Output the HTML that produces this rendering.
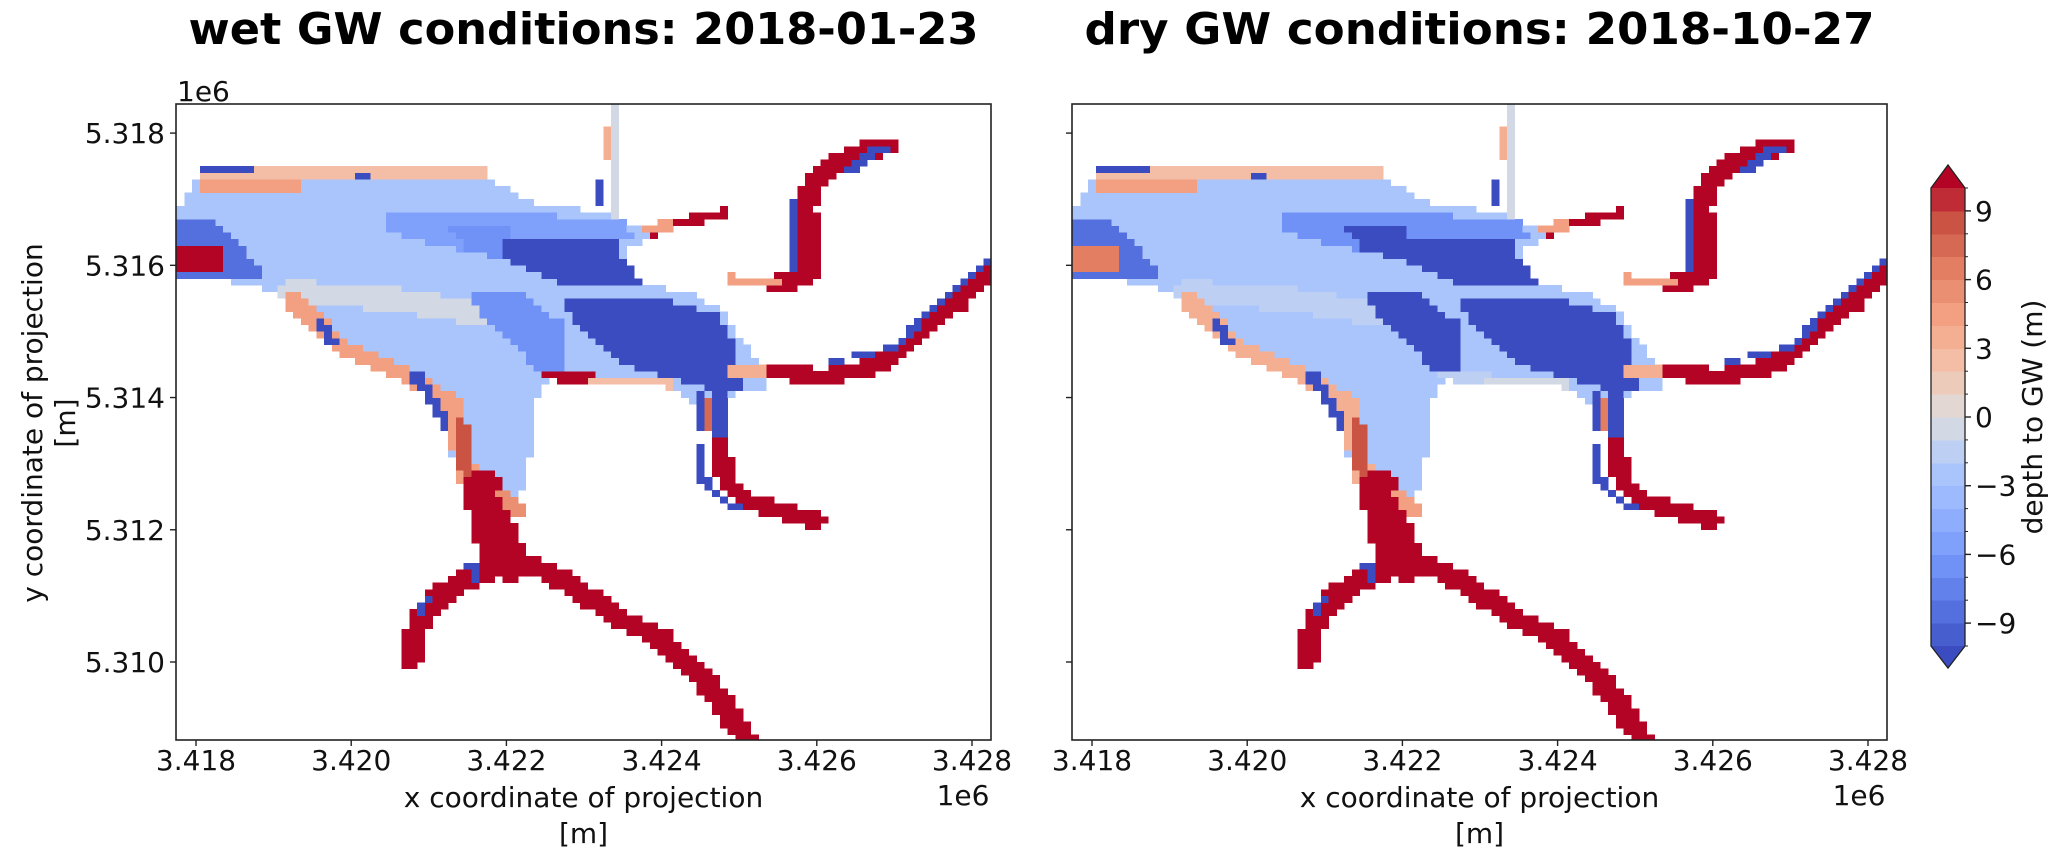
<!DOCTYPE html>
<html><head><meta charset="utf-8">
<style>
html,body{margin:0;padding:0;background:#fff;}
svg{display:block;font-family:"DejaVu Sans","Liberation Sans",sans-serif;}
</style></head>
<body>
<svg id="fig" width="2067" height="854" viewBox="0 0 2067 854" xmlns="http://www.w3.org/2000/svg">
<g id="panels"></g>
<g id="cbar"></g>
</svg>
<script>
// ---- data (km offsets: dx = x_km - 3418, dy = y_km - 5310) ----
const panelTitles = ["wet GW conditions: 2018-01-23", "dry GW conditions: 2018-10-27"];
const xTickValues = [3.418, 3.420, 3.422, 3.424, 3.426, 3.428];
const xTickLabels = ["3.418", "3.420", "3.422", "3.424", "3.426", "3.428"];
const yTickValues = [5.310, 5.312, 5.314, 5.316, 5.318];
const yTickLabels = ["5.310", "5.312", "5.314", "5.316", "5.318"];
const cbarTickValues = [-9, -6, -3, 0, 3, 6, 9];
const cbarTickLabels = ["\u22129", "\u22126", "\u22123", "0", "3", "6", "9"];
const xDomain = [-0.258, 10.245];
const yDomain = [-1.18, 8.44];
const cellSize = 0.1;
// regions: points (dx,dy); width 0 = polygon, >0 = stroked line (km)
const regionPoints = [
 [[0.04,7.43],[3.70,7.43],[4.03,7.13],[4.43,6.93],[5.10,6.83],[5.44,6.72],[5.84,6.47],[5.77,6.32],[5.50,6.22],[5.77,5.72],[6.44,5.57],[6.78,5.31],[6.98,4.91],[7.31,4.51],[7.31,4.15],[6.91,4.05],[6.84,3.60],[6.17,4.10],[5.77,4.30],[4.57,4.36],[4.37,3.90],[4.37,3.46],[4.16,2.45],[4.23,2.15],[3.36,2.75],[3.23,3.46],[3.09,4.05],[2.82,4.36],[1.95,4.81],[1.55,5.21],[1.22,5.57],[0.41,5.77],[-0.26,5.77],[-0.26,6.77],[-0.12,7.03]],
 [[1.2,5.6],[2.5,5.5],[4.5,5.1]],
 [[2.42,6.78],[3.76,6.78],[5.50,6.72],[5.64,6.42],[4.03,6.42],[3.90,6.12],[3.09,6.32],[2.42,6.52]],
 [[3.49,5.62],[4.16,5.62],[4.70,5.16],[4.77,4.41],[4.43,4.36],[4.03,4.91],[3.63,5.31]],
 [[3.23,6.62],[4.03,6.62],[4.03,6.07],[3.49,6.22]],
 [[4.03,6.42],[5.50,6.42],[5.50,6.12],[5.77,5.72],[4.83,5.67],[3.90,6.12]],
 [[4.70,5.46],[6.17,5.46],[6.71,5.26],[6.91,4.91],[7.04,4.15],[6.84,4.05],[6.17,4.26],[5.50,4.51],[5.04,4.91],[4.83,5.21]],
 [[0.1,7.36],[1.5,7.36],[3.7,7.36]],
 [[0.1,7.2],[1.3,7.2]],
 [[0.05,7.42],[0.7,7.42]],
 [[2.1,7.38],[2.25,7.38]],
 [[-0.26,6.72],[0.2,6.72],[0.82,6.0],[0.82,5.77],[-0.26,5.77]],
 [[-0.26,6.27],[0.3,6.27],[0.4,5.95],[-0.26,5.92]],
 [[1.22,5.5],[1.9,4.75],[2.8,4.3],[3.3,3.9],[3.4,3.4],[3.5,2.8]],
 [[3.4,3.6],[3.55,2.6],[3.7,2.3]],
 [[1.55,5.2],[1.75,4.85]],
 [[2.85,4.3],[3.1,3.9],[3.2,3.6]],
 [[5.37,8.5],[5.37,6.8]],
 [[5.17,7.3],[5.17,6.9]],
 [[5.33,8.1],[5.33,7.6]],
 [[4.57,6.9],[5.04,6.9]],
 [[4.57,6.8],[5.0,6.8]],
 [[5.9,6.5],[6.2,6.65],[6.8,6.78]],
 [[5.84,6.52],[6.1,6.62]],
 [[7.51,5.72],[7.85,5.82],[7.92,6.02],[7.85,6.93],[7.98,7.33],[8.25,7.53],[8.59,7.71],[8.92,7.81]],
 [[7.71,5.9],[7.71,6.95]],
 [[8.4,7.45],[8.85,7.78]],
 [[6.84,5.8],[7.5,5.75]],
 [[7.44,4.41],[8.05,4.30],[8.72,4.46],[9.12,4.76],[9.39,5.11],[9.79,5.41],[10.19,5.92]],
 [[8.18,4.55],[8.99,4.75],[9.25,5.05],[9.72,5.56],[10.19,6.06]],
 [[6.98,4.4],[7.3,4.4]],
 [[4.57,4.33],[5.1,4.28]],
 [[5.1,4.28],[6.1,4.2]],
 [[6.8,4.2],[6.8,3.3]],
 [[6.6,4.0],[6.6,3.55]],
 [[6.47,4.1],[6.47,3.5]],
 [[6.75,3.3],[6.84,2.7],[7.11,2.45],[7.45,2.3],[7.78,2.2],[7.98,2.15]],
 [[6.51,3.26],[6.51,2.8],[6.78,2.45],[6.98,2.35]],
 [[3.7,2.6],[3.8,2.2],[3.9,1.7],[4.05,1.5]],
 [[4.03,1.59],[4.57,1.34],[5.04,0.99],[5.50,0.63],[5.97,0.38],[6.24,0.08],[6.58,-0.32],[6.84,-0.73],[7.11,-1.2]],
 [[3.76,1.39],[3.23,1.09],[2.89,0.69],[2.76,0.03]],
 [[3.0,1.0],[2.85,0.75]],
 [[3.55,1.45],[3.6,1.3]],
 [[3.95,2.55],[4.15,2.3]]
];
const regionWidths = [0,0.35,0,0,0,0,0,0.2,0.15,0.1,0.1,0,0,0.25,0.2,0.12,0.15,0.12,0.08,0.08,0.08,0.06,0.15,0.15,0.28,0.1,0.14,0.12,0.25,0.08,0.2,0.15,0.1,0.2,0.08,0.08,0.25,0.1,0.55,0.3,0.3,0.1,0.1,0.2];
const wetValues = [-2.5,-1,-6,-7,-7,-12,-12,2.5,4.5,-12,-12,-9,12,4,8,-12,-12,-1,-12,3,-12,4,12,4,12,-12,-12,4,12,-12,3,12,2,-12,7,-12,12,-12,12,12,12,-12,-12,5];
const dryValues = [-3,-2,-7,-12,-12,-12,-12,2,4,-12,-12,-9,6,3,8,-12,-12,-1,-12,3,-12,3,10,4,11,-12,-12,4,12,-12,3,-2,-1,-12,6,-12,12,-12,12,12,12,-12,-12,4];

// ---- layout ----
const panelLeft = [176, 1072];
const panelTop = 104, panelW = 815, panelH = 636;
const cbX = 1931, cbW = 34, cbTop = 188, cbBot = 646;

const cm = [[59,76,192],[85,113,223],[115,150,249],[146,178,254],[176,201,252],[221,221,221],[244,196,173],[244,165,134],[229,130,102],[203,87,69],[180,4,38]];
function coolwarm(t){t=Math.max(0,Math.min(1,t));const s=t*10;const i=Math.min(9,Math.floor(s));const f=s-i;const a=cm[i],b=cm[i+1];return "rgb("+Math.round(a[0]+(b[0]-a[0])*f)+","+Math.round(a[1]+(b[1]-a[1])*f)+","+Math.round(a[2]+(b[2]-a[2])*f)+")";}
function levelColor(v){ if(v>=10) return coolwarm(1); if(v<-10) return coolwarm(0); const k=Math.floor(v+10); return coolwarm((k+1)/21); }

const NS="http://www.w3.org/2000/svg";
function mk(tag,attrs,parent){const e=document.createElementNS(NS,tag);for(const k in attrs)e.setAttribute(k,attrs[k]);parent.appendChild(e);return e;}
function pip(p,poly){let c=false;for(let i=0,j=poly.length-1;i<poly.length;j=i++){const xi=poly[i][0],yi=poly[i][1],xj=poly[j][0],yj=poly[j][1];if(((yi>p[1])!=(yj>p[1]))&&(p[0]<(xj-xi)*(p[1]-yi)/(yj-yi)+xi))c=!c;}return c;}
function segDist(p,a,b){const dx=b[0]-a[0],dy=b[1]-a[1];const L=dx*dx+dy*dy;let t=L?((p[0]-a[0])*dx+(p[1]-a[1])*dy)/L:0;t=Math.max(0,Math.min(1,t));const x=a[0]+t*dx-p[0],y=a[1]+t*dy-p[1];return Math.sqrt(x*x+y*y);}
function inLine(p,pts,w){for(let i=0;i<pts.length-1;i++){if(segDist(p,pts[i],pts[i+1])<=w/2)return true;}return false;}

const panels=document.getElementById('panels');
[0,1].forEach(function(pi){
  const L=panelLeft[pi];
  const sx=function(d){return L+(d-xDomain[0])/(xDomain[1]-xDomain[0])*panelW;};
  const sy=function(d){return panelTop+(yDomain[1]-d)/(yDomain[1]-yDomain[0])*panelH;};
  const vals = pi===0?wetValues:dryValues;
  const g=mk('g',{},panels);
  
  
  const hm=mk('g',{'shape-rendering':'crispEdges'},g);
  
  
  const nRegions=Math.min(regionPoints.length,regionWidths.length,vals.length);
  const nx=Math.ceil((xDomain[1]-xDomain[0])/cellSize)+1, ny=Math.ceil((yDomain[1]-yDomain[0])/cellSize)+1;
  for(let i=0;i<nx;i++){
    for(let j=0;j<ny;j++){
      const x0=-0.25+i*cellSize, y0=-1.2+j*cellSize;
      const p=[x0+cellSize/2,y0+cellSize/2];
      let v=null;
      for(let r=0;r<nRegions;r++){
        const hit = regionWidths[r]===0?pip(p,regionPoints[r]):inLine(p,regionPoints[r],regionWidths[r]);
        if(hit) v=vals[r];
      }
      if(v===null) continue;
      const xa=Math.max(L,sx(x0)), xb=Math.min(L+panelW,sx(x0+cellSize));
      const ya=Math.max(panelTop,sy(y0+cellSize)), yb=Math.min(panelTop+panelH,sy(y0));
      if(xb<=xa||yb<=ya) continue;
      const c=mk('rect',{x:xa.toFixed(2),y:ya.toFixed(2),width:(xb-xa+0.3).toFixed(2),height:(yb-ya+0.3).toFixed(2),fill:levelColor(v)},hm);
      
      
    }
  }
  const fr=mk('rect',{x:L,y:panelTop,width:panelW,height:panelH,fill:'none',stroke:'#222','stroke-width':1.6},g);
  
  
  xTickValues.forEach(function(v,k){
    const x=sx(v*1000-3418);
    const t=mk('line',{x1:x,x2:x,y1:panelTop+panelH,y2:panelTop+panelH+6,stroke:'#222','stroke-width':1.4},g);
    
    
    const tx=mk('text',{x:x,y:770,'font-size':28,'text-anchor':'middle',fill:'#111'},g);
    tx.textContent=xTickLabels[k];
    
    
  });
  yTickValues.forEach(function(v,k){
    const y=sy(v*1000-5310);
    const t=mk('line',{x1:L-6,x2:L,y1:y,y2:y,stroke:'#222','stroke-width':1.4},g);
    
    
    if(pi===0){
      const tx=mk('text',{x:L-11,y:y+10,'font-size':28,'text-anchor':'end',fill:'#111'},g);
      tx.textContent=yTickLabels[k];
      
      
    }
  });
  const off=mk('text',{x:L+panelW-28,y:805,'font-size':28,'text-anchor':'middle',fill:'#111'},g);
  off.textContent='1e6';
  
  
  const ttl=mk('text',{x:L+panelW/2,y:44,'font-size':44,'font-weight':'bold','text-anchor':'middle',fill:'#000',textLength:790,lengthAdjust:'spacingAndGlyphs'},g);
  ttl.textContent=panelTitles[pi];
  
  
  const xl=mk('text',{x:L+panelW/2,y:807,'font-size':28,'text-anchor':'middle',fill:'#111'},g);
  xl.textContent='x coordinate of projection';
  
  
  const xl2=mk('text',{x:L+panelW/2,y:843,'font-size':28,'text-anchor':'middle',fill:'#111'},g);
  xl2.textContent='[m]';
  
  
  if(pi===0){
    const yo=mk('text',{x:177,y:101,'font-size':28,'text-anchor':'start',fill:'#111'},g);
    yo.textContent='1e6';
    
    
    const yl=mk('text',{x:0,y:0,'font-size':28,'text-anchor':'middle',fill:'#111',transform:'translate(42,423) rotate(-90)'},g);
    yl.textContent='y coordinate of projection';
    
    
    const yl2=mk('text',{x:0,y:0,'font-size':28,'text-anchor':'middle',fill:'#111',transform:'translate(75,423) rotate(-90)'},g);
    yl2.textContent='[m]';
    
    
  }
});

// ---- colorbar ----
const cb=document.getElementById('cbar');
const cy=function(v){return cbTop+(10-v)/20*(cbBot-cbTop);};
for(let k=0;k<20;k++){
  const lo=-10+k;
  const r=mk('rect',{x:cbX,y:cy(lo+1),width:cbW,height:cy(lo)-cy(lo+1)+0.5,fill:levelColor(lo+0.5),'shape-rendering':'crispEdges'},cb);
  
  
}
const up=mk('polygon',{points:cbX+","+cbTop+" "+(cbX+cbW/2)+","+(cbTop-23)+" "+(cbX+cbW)+","+cbTop,fill:coolwarm(1)},cb);


const dn=mk('polygon',{points:cbX+","+cbBot+" "+(cbX+cbW/2)+","+(cbBot+22)+" "+(cbX+cbW)+","+cbBot,fill:coolwarm(0)},cb);


const ol=mk('polygon',{points:cbX+","+cbTop+" "+(cbX+cbW/2)+","+(cbTop-23)+" "+(cbX+cbW)+","+cbTop+" "+(cbX+cbW)+","+cbBot+" "+(cbX+cbW/2)+","+(cbBot+22)+" "+cbX+","+cbBot,fill:'none',stroke:'#222','stroke-width':1.3},cb);


for(let k=-10;k<=10;k++){
  const y=cy(k);
  const m=mk('line',{x1:cbX+cbW,x2:cbX+cbW+3,y1:y,y2:y,stroke:'#222','stroke-width':1},cb);
  
  
}
cbarTickValues.forEach(function(v,k){
  const y=cy(v);
  const t=mk('line',{x1:cbX+cbW,x2:cbX+cbW+6,y1:y,y2:y,stroke:'#222','stroke-width':1.4},cb);
  
  
  const tx=mk('text',{x:cbX+cbW+10,y:y+10,'font-size':28,fill:'#111'},cb);
  tx.textContent=cbarTickLabels[k];
  
  
});
const cl=mk('text',{x:0,y:0,'font-size':28,'text-anchor':'middle',fill:'#111',transform:'translate(2042,'+((cbTop+cbBot)/2)+') rotate(-90)'},cb);
cl.textContent='depth to GW (m)';


</script>
</body></html>
